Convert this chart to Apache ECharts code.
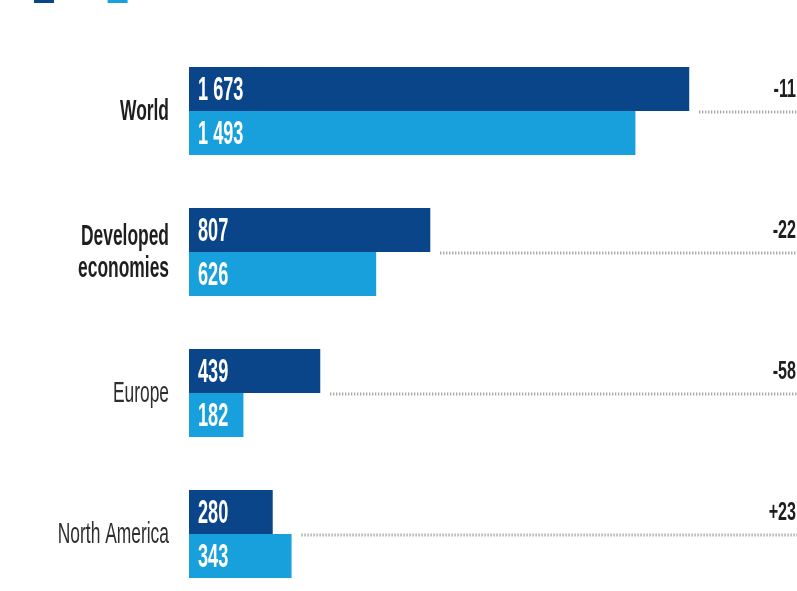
<!DOCTYPE html>
<html>
<head>
<meta charset="utf-8">
<script src="https://cdn.jsdelivr.net/npm/echarts@6/dist/echarts.min.js"></script>
<style>
  html, body { margin: 0; padding: 0; background: #fff; overflow: hidden; }
  #chart { width: 797px; height: 620px; }
</style>
</head>
<body>
<div id="chart"></div>
<script>
var regions = ["World", "Developed\neconomies", "Europe", "North America"];
var boldRegions = ["World", "Developed\neconomies"];
var seriesNames = ["2022", "2023"];
var valuesFirst = [1673, 807, 439, 280];
var valuesSecond = [1493, 626, 182, 343];
var changes = ["-11", "-22", "-58", "+23"];

var FONT = "'Liberation Sans', Arial, sans-serif";
var SQUEEZE = 0.58; // condensed look
var DARK = "#0b4589";
var LIGHT = "#18a0dc";
var GAP = 0.376;

var chartDom = document.getElementById("chart");
var chart = echarts.init(chartDom, null, {renderer: "canvas"});

function fmt(v) {
  return String(v).replace(/\B(?=(\d{3})+(?!\d))/g, " ");
}

var changeData = regions.map(function (r, i) {
  return [Math.max(valuesFirst[i], valuesSecond[i]), i];
});
var regionData = regions.map(function (r, i) {
  return [0, i];
});
var valueData = [];
valuesFirst.forEach(function (v, i) { valueData.push([v, i, 0]); });
valuesSecond.forEach(function (v, i) { valueData.push([v, i, 1]); });

chart.setOption({
  animation: false,
  legend: {
    left: 34,
    top: -17,
    padding: 0,
    itemWidth: 20,
    itemHeight: 20,
    itemGap: 13,
    icon: "rect",
    textStyle: {fontFamily: FONT, fontSize: 16, color: "#333"},
    data: seriesNames
  },
  grid: {left: 189, top: 40.5, width: 598, height: 564},
  xAxis: {
    type: "value",
    min: 0,
    max: 2000,
    show: false
  },
  yAxis: {
    type: "category",
    inverse: true,
    data: regions,
    show: false
  },
  series: [
    {
      name: seriesNames[0],
      type: "bar",
      data: valuesFirst,
      itemStyle: {color: DARK},
      barGap: "0%",
      barCategoryGap: (GAP * 100) + "%"
    },
    {
      name: seriesNames[1],
      type: "bar",
      data: valuesSecond,
      itemStyle: {color: LIGHT}
    },
    {
      // region names
      type: "custom",
      data: regionData,
      silent: true,
      z: 5,
      renderItem: function (params, api) {
        var i = api.value(1);
        var p = api.coord([0, i]);
        var bold = boldRegions.indexOf(regions[i]) >= 0;
        return {
          type: "text",
          x: p[0] - 20,
          y: p[1] + 1,
          scaleX: SQUEEZE,
          style: {
            x: 0,
            y: 0,
            text: regions[i],
            align: "right",
            verticalAlign: "middle",
            fontFamily: FONT,
            fontSize: 30,
            lineHeight: 32,
            fontWeight: bold ? "bold" : "normal",
            fill: bold ? "#1e1e1e" : "#2e2e2e"
          }
        };
      }
    },
    {
      // values inside the bars
      type: "custom",
      data: valueData,
      dimensions: ["value", "region", "year"],
      encode: {x: 0, y: 1},
      silent: true,
      z: 10,
      renderItem: function (params, api) {
        var d = valueData[params.dataIndex];
        var p = api.coord([0, d[1]]);
        var barH = api.size([0, 1])[1] * (1 - GAP) / 2;
        return {
          type: "text",
          z2: 100,
          x: p[0] + 9,
          y: p[1] + (d[2] === 0 ? -barH / 2 : barH / 2) + 2,
          scaleX: 0.55,
          style: {
            x: 0,
            y: 0,
            text: fmt(d[0]),
            align: "left",
            verticalAlign: "middle",
            fontFamily: FONT,
            fontSize: 33,
            fontWeight: "bold",
            fill: "#fff"
          }
        };
      }
    },
    {
      // dotted leader + change label
      type: "custom",
      data: changeData,
      silent: true,
      z: 5,
      renderItem: function (params, api) {
        var p = api.coord([api.value(0), api.value(1)]);
        var x0 = p[0] + 10;
        var x1 = api.getWidth();
        var y = p[1] + 1;
        return {
          type: "group",
          children: [
            {
              type: "line",
              shape: {x1: x0, y1: y, x2: x1, y2: y},
              style: {stroke: "#8c8c8c", lineWidth: 3, lineDash: [1, 2]}
            },
            {
              type: "text",
              x: x1 - 1,
              y: y - 22,
              scaleX: 0.62,
              style: {
                x: 0,
                y: 0,
                text: changes[params.dataIndex],
                align: "right",
                verticalAlign: "middle",
                fontFamily: FONT,
                fontSize: 26,
                fontWeight: "bold",
                fill: "#1e1e1e"
              }
            }
          ]
        };
      }
    }
  ]
});

window.addEventListener("resize", function () {
  chart.resize();
});
</script>
</body>
</html>
